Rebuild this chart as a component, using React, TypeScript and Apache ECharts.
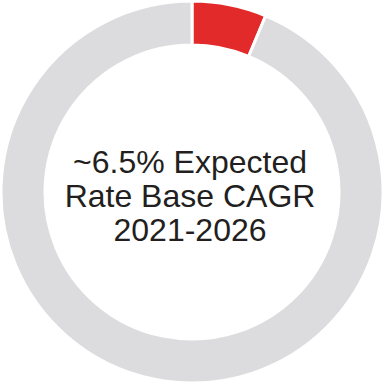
import React, { useEffect, useRef } from "react";
import * as echarts from "echarts";

const sliceNames = ["Rate Base CAGR", "Remainder"];
const sliceValues = [6.3, 93.7];
const sliceColors = ["#E32A2A", "#DCDCDE"];
const centerLines = ["~6.5% Expected", "Rate Base CAGR", "2021-2026"];

export default function App() {
  const ref = useRef<HTMLDivElement>(null);
  useEffect(() => {
    if (!ref.current) return;
    const chart = echarts.init(ref.current, undefined, { renderer: "svg" });
    chart.setOption({
      animation: false,
      backgroundColor: "#ffffff",
      series: [
        {
          type: "pie",
          center: [192, 192],
          radius: [147, 191],
          startAngle: 90,
          clockwise: true,
          silent: true,
          label: { show: false },
          labelLine: { show: false },
          itemStyle: { borderColor: "#ffffff", borderWidth: 3 },
          data: sliceNames.map((n, i) => ({
            name: n,
            value: sliceValues[i],
            itemStyle: { color: sliceColors[i] },
          })),
        },
      ],
      graphic: [
        {
          type: "text",
          x: 190,
          y: 196,
          style: {
            text: centerLines.join("\n"),
            fill: "#231F20",
            fontFamily: '"Liberation Sans", Arial, sans-serif',
            fontSize: 32,
            lineHeight: 34,
            align: "center",
            verticalAlign: "middle",
          },
        },
      ],
    });
    return () => chart.dispose();
  }, []);
  return (
    <div
      ref={ref}
      style={{ position: "fixed", left: 0, top: 0, width: 384, height: 384 }}
    />
  );
}
